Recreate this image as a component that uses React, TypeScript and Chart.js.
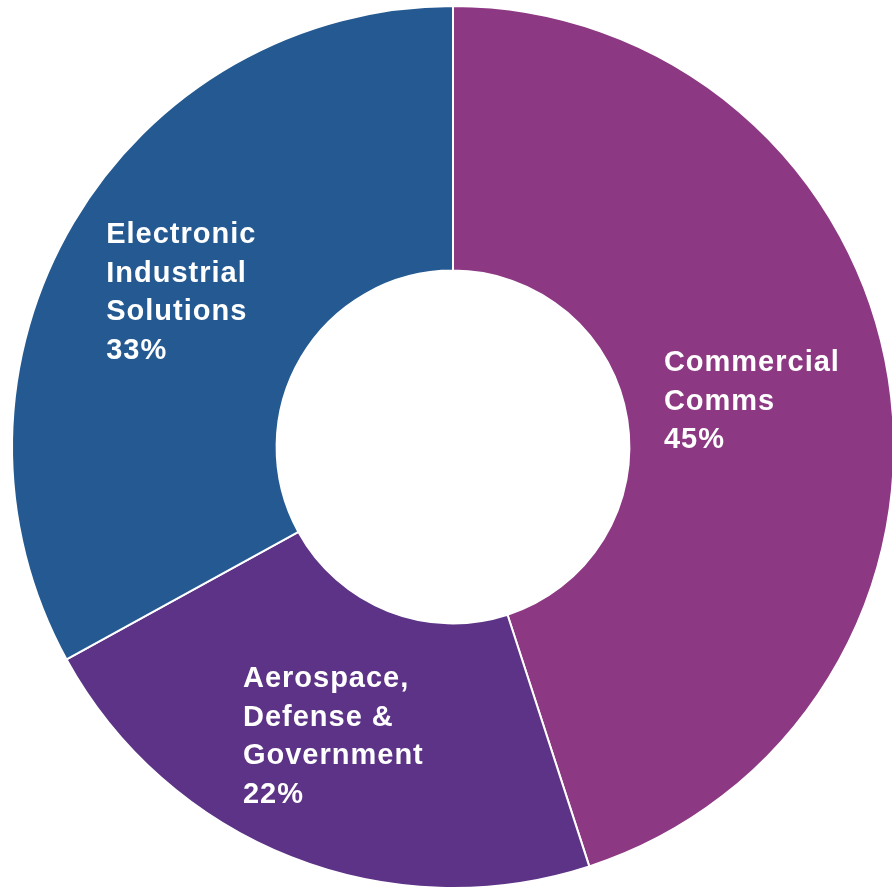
import React, { useEffect, useRef } from "react";
import { Chart, registerables } from "chart.js";

Chart.register(...registerables);

const categories = ["Commercial Comms", "Aerospace, Defense & Government", "Electronic Industrial Solutions"];
const shares = [45, 22, 33];
const sliceColors = ["#8D3883", "#5C3386", "#245A91"];
const labelLines = [
  ["Commercial", "Comms"],
  ["Aerospace,", "Defense &", "Government"],
  ["Electronic", "Industrial", "Solutions"],
];

const FONT = "bold 29px 'Liberation Sans', Arial, sans-serif";
const LINE_H = 38.5;

const labelPlugin = {
  id: "sliceLabels",
  afterDatasetsDraw(chart: any) {
    const ctx = chart.ctx;
    const meta = chart.getDatasetMeta(0);
    ctx.save();
    ctx.font = FONT;
    (ctx as any).letterSpacing = "1px";
    ctx.fillStyle = "#FFFFFF";
    ctx.textAlign = "left";
    ctx.textBaseline = "middle";
    meta.data.forEach((arc: any, i: number) => {
      const p = arc.getProps(["x", "y", "startAngle", "endAngle", "outerRadius"], true);
      const mid = (p.startAngle + p.endAngle) / 2;
      const r = p.outerRadius * 0.7;
      const cx = p.x + Math.cos(mid) * r;
      const cy = p.y + Math.sin(mid) * r;
      const lines = [...labelLines[i], shares[i] + "%"];
      const w = Math.max(...lines.map((l) => ctx.measureText(l).width));
      const h = lines.length * LINE_H;
      const left = cx - w / 2 - 6;
      const top = cy - h / 2 + 3;
      lines.forEach((l, k) => {
        ctx.fillText(l, left, top + LINE_H * (k + 0.5));
      });
    });
    ctx.restore();
  },
};

export default function App() {
  const ref = useRef<HTMLCanvasElement>(null);
  useEffect(() => {
    document.body.style.margin = "0";
    document.body.style.overflow = "hidden";
    const chart = new Chart(ref.current!, {
      type: "doughnut",
      data: {
        labels: categories,
        datasets: [
          {
            data: shares,
            backgroundColor: sliceColors,
            borderColor: "#FFFFFF",
            borderWidth: 2,
          },
        ],
      },
      options: {
        animation: false,
        responsive: false,
        cutout: "40%",
        layout: { padding: 5 },
        plugins: { legend: { display: false }, tooltip: { enabled: false } },
      },
      plugins: [labelPlugin],
    });
    return () => chart.destroy();
  }, []);
  return (
    <div style={{ position: "fixed", left: 0, top: 0, width: 892, height: 891, overflow: "hidden", background: "#fff" }}>
      <canvas ref={ref} width={906} height={894} style={{ display: "block", width: 906, height: 894 }} />
    </div>
  );
}
